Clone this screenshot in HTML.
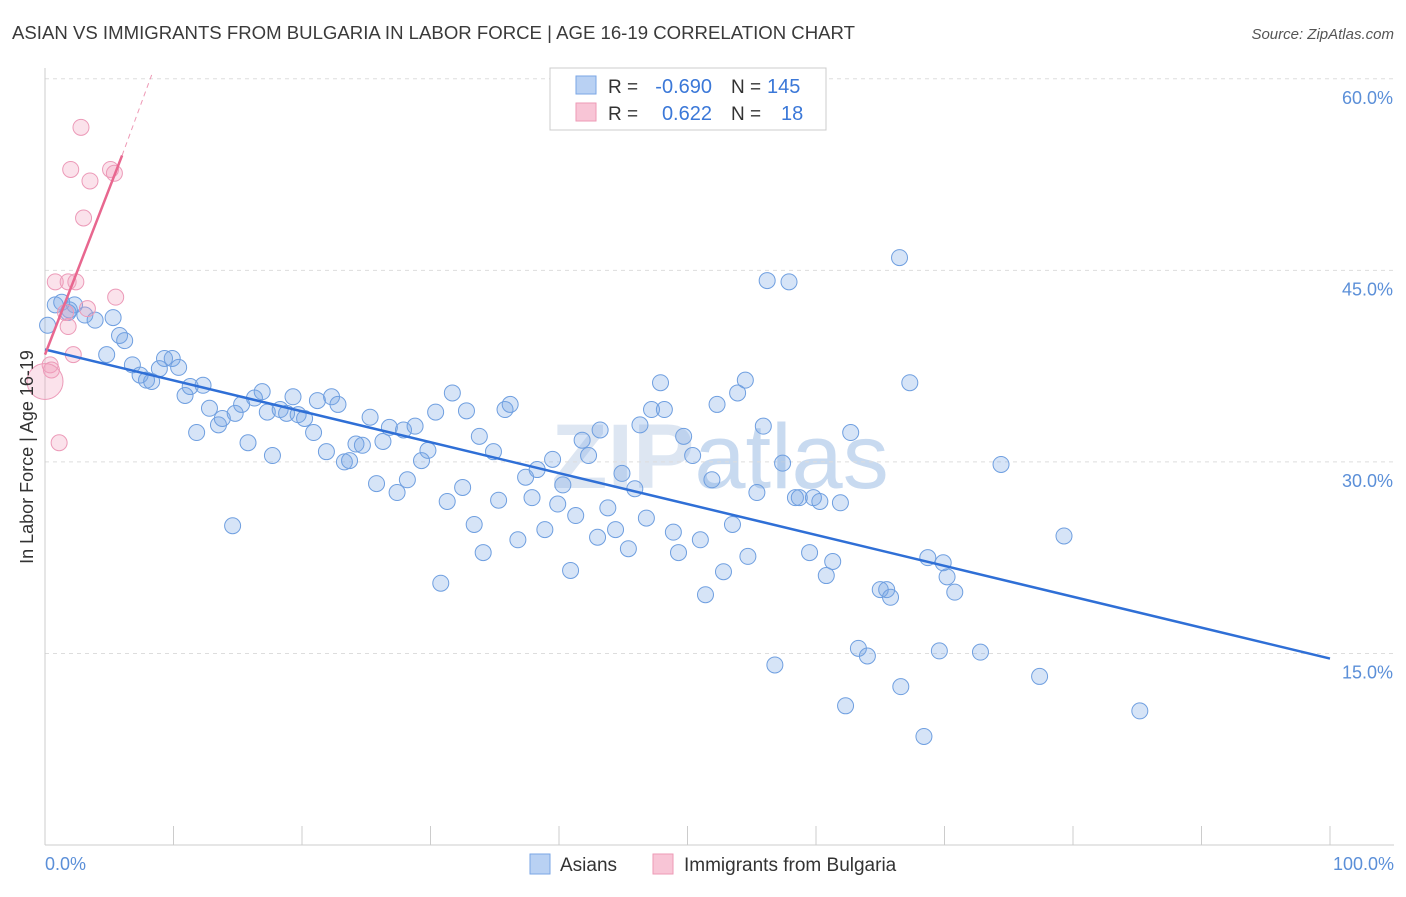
<!DOCTYPE html>
<html><head><meta charset="utf-8"><style>
body{margin:0;background:#fff;font-family:"Liberation Sans",sans-serif;}
</style></head><body>
<svg id="chart" width="1406" height="892" xmlns="http://www.w3.org/2000/svg" font-family="Liberation Sans, sans-serif">
<text x="12" y="39" font-size="18" fill="#3a3a3a" textLength="843" lengthAdjust="spacingAndGlyphs">ASIAN VS IMMIGRANTS FROM BULGARIA IN LABOR FORCE | AGE 16-19 CORRELATION CHART</text>
<text x="1394" y="39" font-size="15" fill="#555" text-anchor="end" font-style="italic">Source: ZipAtlas.com</text>
<text x="720" y="488" font-size="92" fill="#dde6f2" text-anchor="middle" font-weight="bold">ZIP<tspan font-weight="normal" fill="#c8daf0">atlas</tspan></text>
<g id="grid"></g><g id="axes"></g><g id="marks"></g><g id="trends"></g>
<text transform="translate(33,457) rotate(-90)" font-size="18" fill="#333" text-anchor="middle">In Labor Force | Age 16-19</text>
<text x="45" y="870" font-size="18" fill="#5b8fd8">0.0%</text>
<text x="1394" y="870" font-size="18" fill="#5b8fd8" text-anchor="end">100.0%</text>
<g>
<rect x="550" y="68" width="276" height="62" fill="#fff" stroke="#ccc"/>
<rect x="576" y="76" width="20" height="18" fill="#b9d1f3" stroke="#7aa6e6"/>
<rect x="576" y="103" width="20" height="18" fill="#f8c5d6" stroke="#ee9ab6"/>
<text x="608" y="93" font-size="19" fill="#333">R =</text>
<text x="712" y="93" font-size="20" fill="#3b78d8" text-anchor="end">-0.690</text>
<text x="731" y="93" font-size="19" fill="#333">N =</text>
<text x="767" y="93" font-size="20" fill="#3b78d8">145</text>
<text x="608" y="120" font-size="19" fill="#333">R =</text>
<text x="712" y="120" font-size="20" fill="#3b78d8" text-anchor="end">0.622</text>
<text x="731" y="120" font-size="19" fill="#333">N =</text>
<text x="781" y="120" font-size="20" fill="#3b78d8">18</text>
</g>
<g>
<rect x="530" y="854" width="20" height="20" fill="#b9d1f3" stroke="#7aa6e6"/>
<text x="560" y="871" font-size="19" fill="#333">Asians</text>
<rect x="653" y="854" width="20" height="20" fill="#f8c5d6" stroke="#ee9ab6"/>
<text x="684" y="871" font-size="19" fill="#333">Immigrants from Bulgaria</text>
</g>
</svg>
<script>
const yTicks=[15,30,45,60];
const yTickLabels=["15.0%","30.0%","45.0%","60.0%"];
const xTicks=[0,10,20,30,40,50,60,70,80,90,100];
const asianX=[0.8,1.3,1.9,2.3,3.1,3.9,5.3,0.2,1.8,5.8,6.2,4.8,6.8,7.4,7.9,8.3,9.3,9.9,8.9,10.4,10.9,11.3,12.3,11.8,12.8,13.5,13.8,14.8,15.3,15.8,16.3,16.9,17.3,17.7,18.3,18.8,19.3,19.7,20.2,20.9,21.2,21.9,22.3,22.8,23.3,23.7,24.2,24.7,25.3,25.8,26.3,26.8,27.4,27.9,28.2,28.8,29.3,29.8,30.4,30.8,31.3,31.7,32.5,32.8,33.4,33.8,34.1,34.9,35.3,35.8,36.2,36.8,37.4,37.9,38.3,38.9,39.5,39.9,40.3,40.9,41.3,41.8,42.3,43.0,43.2,43.8,44.4,44.9,45.4,45.9,46.3,46.8,47.2,47.9,48.2,48.9,49.3,49.7,50.4,51.0,51.4,51.9,52.3,52.8,53.5,53.9,54.5,54.7,55.4,55.9,56.2,56.8,57.4,57.9,58.4,58.7,59.5,59.8,60.3,60.8,61.3,61.9,62.7,62.3,63.3,64.0,65.0,65.5,65.8,66.5,66.6,67.3,68.7,68.4,69.6,69.9,70.2,70.8,72.8,74.4,77.4,79.3,85.2,14.6];
const asianY=[42.3,42.5,41.9,42.3,41.5,41.1,41.3,40.7,41.7,39.9,39.5,38.4,37.6,36.8,36.4,36.3,38.1,38.1,37.3,37.4,35.2,35.9,36.0,32.3,34.2,32.9,33.4,33.8,34.5,31.5,35.0,35.5,33.9,30.5,34.1,33.8,35.1,33.7,33.4,32.3,34.8,30.8,35.1,34.5,30.0,30.1,31.4,31.3,33.5,28.3,31.6,32.7,27.6,32.5,28.6,32.8,30.1,30.9,33.9,20.5,26.9,35.4,28.0,34.0,25.1,32.0,22.9,30.8,27.0,34.1,34.5,23.9,28.8,27.2,29.4,24.7,30.2,26.7,28.2,21.5,25.8,31.7,30.5,24.1,32.5,26.4,24.7,29.1,23.2,27.9,32.9,25.6,34.1,36.2,34.1,24.5,22.9,32.0,30.5,23.9,19.6,28.6,34.5,21.4,25.1,35.4,36.4,22.6,27.6,32.8,44.2,14.1,29.9,44.1,27.2,27.2,22.9,27.2,26.9,21.1,22.2,26.8,32.3,10.9,15.4,14.8,20.0,20.0,19.4,46.0,12.4,36.2,22.5,8.5,15.2,22.1,21.0,19.8,15.1,29.8,13.2,24.2,10.5,25.0];
const bulgX=[2.8,2.0,3.5,5.1,5.4,3.0,0.8,1.8,2.4,5.5,3.3,1.6,1.8,2.2,0.4,0.5,0,1.1];
const bulgY=[56.2,52.9,52.0,52.9,52.6,49.1,44.1,44.1,44.1,42.9,42.0,41.7,40.6,38.4,37.6,37.2,36.3,31.5];
const asianTrend=[[0,38.8],[100,14.6]];
const bulgTrend=[[0,38.4],[6.0,54.0]];
const bulgTrendExt=[[6.0,54.0],[8.3,60.3]];

const X=v=>45+v*12.85, Y=v=>845-v*12.77;
const NS="http://www.w3.org/2000/svg";
function mk(tag,attrs,parent){const e=document.createElementNS(NS,tag);for(const k in attrs)e.setAttribute(k,attrs[k]);parent.appendChild(e);return e;}
const grid=document.getElementById('grid'),axes=document.getElementById('axes'),marks=document.getElementById('marks'),trends=document.getElementById('trends');
yTicks.forEach((t,i)=>{
  const l=mk('line',{x1:45,x2:1394,y1:Y(t),y2:Y(t),stroke:'#ddd','stroke-dasharray':'4,4'},grid);
  
  
  const tx=mk('text',{x:1393,y:Y(t)+25,'font-size':18,fill:'#5b8fd8','text-anchor':'end'},axes);
  tx.textContent=yTickLabels[i];
  
  
});
const ya=mk('line',{x1:45,x2:45,y1:68,y2:845,stroke:'#ccc'},axes);


const xa=mk('line',{x1:45,x2:1394,y1:845,y2:845,stroke:'#ccc'},axes);


xTicks.forEach(t=>{
  const l=mk('line',{x1:X(t),x2:X(t),y1:826,y2:845,stroke:'#ccc'},axes);
  
  
});
asianX.forEach((v,i)=>{
  const c=mk('circle',{cx:X(v),cy:Y(asianY[i]),r:8,fill:'rgba(120,165,230,0.3)',stroke:'#6f9fe0','stroke-width':1},marks);
  
  
});
bulgX.forEach((v,i)=>{
  const c=mk('circle',{cx:X(v),cy:Y(bulgY[i]),r:i==16?18:8,fill:'rgba(242,160,190,0.3)',stroke:'#ec9ab8','stroke-width':1},marks);
  
  
});
const t1=mk('line',{x1:X(asianTrend[0][0]),y1:Y(asianTrend[0][1]),x2:X(asianTrend[1][0]),y2:Y(asianTrend[1][1]),stroke:'#2f6fd6','stroke-width':2.5},trends);


const t2=mk('line',{x1:X(bulgTrend[0][0]),y1:Y(bulgTrend[0][1]),x2:X(bulgTrend[1][0]),y2:Y(bulgTrend[1][1]),stroke:'#e8678f','stroke-width':2.5},trends);


const t3=mk('line',{x1:X(bulgTrendExt[0][0]),y1:Y(bulgTrendExt[0][1]),x2:X(bulgTrendExt[1][0]),y2:Y(bulgTrendExt[1][1]),stroke:'#ee9ab6','stroke-width':1,'stroke-dasharray':'5,4'},trends);


</script>
</body></html>
